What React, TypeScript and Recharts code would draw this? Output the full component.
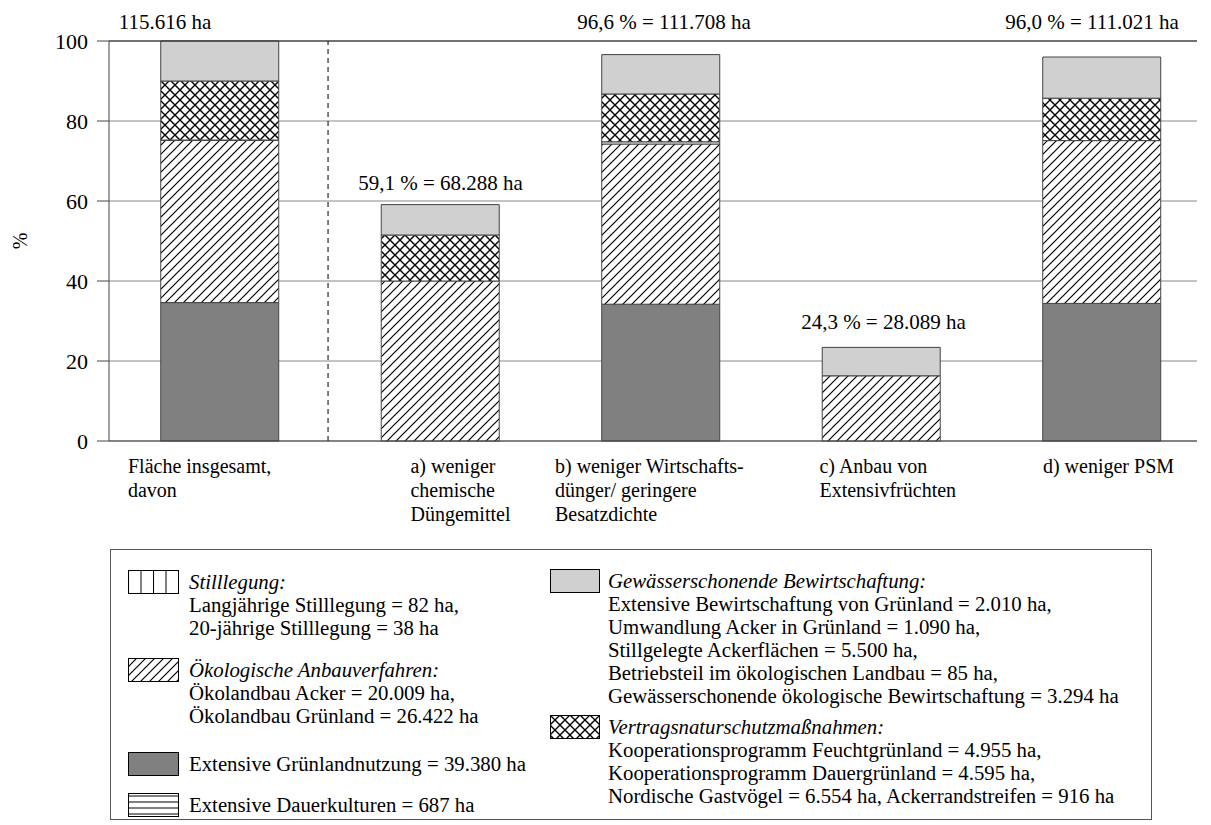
import React from 'react';
import { BarChart, Bar, XAxis, YAxis, CartesianGrid, ReferenceLine, ReferenceDot } from 'recharts';

// values in % of total area (115.616 ha)
const IDX = [0, 1, 2, 3, 4];
const TICK_LINES = [
    ['Fläche insgesamt,', 'davon'],
    ['a) weniger', 'chemische', 'Düngemittel'],
    ['b) weniger Wirtschafts-', 'dünger/ geringere', 'Besatzdichte'],
    ['c) Anbau von', 'Extensivfrüchten'],
    ['d) weniger PSM'],
];
const TOTAL_LABELS = ['115.616 ha', '59,1 % = 68.288 ha', '96,6 % = 111.708 ha', '24,3 % = 28.089 ha', '96,0 % = 111.021 ha'];
const GRUENLAND = [34.6, 0, 34.2, 0, 34.4];
const OEKO = [40.55, 40.0, 40.05, 16.3, 40.7];
const DAUERKULTUR = [0, 0, 0.55, 0, 0];
const STILLLEGUNG = [0.1, 0, 0, 0, 0];
const VERTRAG = [14.75, 11.5, 11.95, 0, 10.6];
const GEWAESSER = [10, 7.6, 9.85, 7.1, 10.3];
const Y_TICKS = [0, 20, 40, 60, 80, 100];

// layout only
const LABEL_LEVEL = [104.75, 64.7, 104.75, 29.8, 104.75];
const LABEL_DX = [-55, 0, 3, 2, -10];
const TICK_DX = [-92, -30, -106, -62, -59];

const FONT = '"Liberation Serif", "Times New Roman", serif';
const DARK = '#808080';
const LIGHT = '#d0d0d0';
const EDGE = '#444';

const data = IDX.map((i) => ({
    idx: i,
    gruen: GRUENLAND[i],
    oeko: OEKO[i],
    dauer: DAUERKULTUR[i],
    still: STILLLEGUNG[i],
    vertrag: VERTRAG[i],
    gewaesser: GEWAESSER[i],
}));

const Patterns = ({ p }: { p: string }) => (
    <defs>
        <pattern id={`${p}hatch`} patternUnits="userSpaceOnUse" width="9" height="9">
            <rect width="9" height="9" fill="#fff" />
            <path d="M-1,1 L1,-1 M0,9 L9,0 M8,10 L10,8" stroke="#000" strokeWidth="1.2" />
        </pattern>
        <pattern id={`${p}cross`} patternUnits="userSpaceOnUse" width="10" height="10">
            <rect width="10" height="10" fill="#fff" />
            <path d="M-1,-1 L11,11 M11,-1 L-1,11" stroke="#000" strokeWidth="1.4" />
        </pattern>
        <pattern id={`${p}vline`} patternUnits="userSpaceOnUse" width="12.5" height="10">
            <rect width="12.5" height="10" fill="#fff" />
            <path d="M0.5,0 L0.5,10" stroke="#000" strokeWidth="1" />
        </pattern>
        <pattern id={`${p}hline`} patternUnits="userSpaceOnUse" width="10" height="6">
            <rect width="10" height="6" fill="#fff" />
            <path d="M0,3 L10,3" stroke="#000" strokeWidth="1" />
        </pattern>
    </defs>
);

const CatTick = (props: any) => {
    const { x, y, payload } = props;
    const i = payload.value as number;
    const lines = TICK_LINES[i] || [];
    return (
        <g>
            {lines.map((line, k) => (
                <text key={k} x={x + TICK_DX[i]} y={y + 24 + k * 24} fontSize={20} fontFamily={FONT} fill="#000" textAnchor="start">
                    {line}
                </text>
            ))}
        </g>
    );
};

const Swatch = ({ fill, w }: { fill: string; w: number }) => (
    <svg width={w} height={24} style={{ display: 'block' }}>
        <Patterns p="lg-" />
        <rect x={0.5} y={0.5} width={w - 1} height={23} fill={fill} stroke="#000" strokeWidth={1} />
    </svg>
);

const LegendBlock = ({ left, top, fill, sw, gap, title, lines, italic }: any) => (
    <div style={{ position: 'absolute', left, top, lineHeight: '23px' }}>
        <div style={{ position: 'absolute', left: 0, top: 0 }}>
            <Swatch fill={fill} w={sw} />
        </div>
        <div style={{ position: 'absolute', left: sw + gap, top: 0, whiteSpace: 'nowrap' }}>
            <div style={{ fontStyle: italic ? 'italic' : 'normal' }}>{title}</div>
            {lines.map((l: string, k: number) => (
                <div key={k}>{l}</div>
            ))}
        </div>
    </div>
);

const ChartLegend = () => (
    <div
        style={{
            position: 'absolute',
            left: 110,
            top: 549,
            width: 1042,
            height: 271,
            border: '1px solid #555',
            boxSizing: 'border-box',
            fontFamily: FONT,
            fontSize: 20.8,
            color: '#000',
        }}
    >
        <LegendBlock left={17} top={20} sw={51} gap={10} fill="url(#lg-vline)" italic title="Stilllegung:"
            lines={['Langjährige Stilllegung = 82 ha,', '20-jährige Stilllegung = 38 ha']} />
        <LegendBlock left={17} top={108} sw={51} gap={10} fill="url(#lg-hatch)" italic title="Ökologische Anbauverfahren:"
            lines={['Ökolandbau Acker = 20.009 ha,', 'Ökolandbau Grünland = 26.422 ha']} />
        <LegendBlock left={17} top={202} sw={51} gap={10} fill={DARK} title="Extensive Grünlandnutzung = 39.380 ha" lines={[]} />
        <LegendBlock left={17} top={243} sw={51} gap={10} fill="url(#lg-hline)" title="Extensive Dauerkulturen = 687 ha" lines={[]} />
        <LegendBlock left={439} top={19} sw={50} gap={8} fill={LIGHT} italic title="Gewässerschonende Bewirtschaftung:"
            lines={[
                'Extensive Bewirtschaftung von Grünland = 2.010 ha,',
                'Umwandlung Acker in Grünland = 1.090 ha,',
                'Stillgelegte Ackerflächen = 5.500 ha,',
                'Betriebsteil im ökologischen Landbau = 85 ha,',
                'Gewässerschonende ökologische Bewirtschaftung = 3.294 ha',
            ]} />
        <LegendBlock left={439} top={165} sw={50} gap={8} fill="url(#lg-cross)" italic title="Vertragsnaturschutzmaßnahmen:"
            lines={[
                'Kooperationsprogramm Feuchtgrünland = 4.955 ha,',
                'Kooperationsprogramm Dauergrünland = 4.595 ha,',
                'Nordische Gastvögel = 6.554 ha, Ackerrandstreifen = 916 ha',
            ]} />
    </div>
);

const YLabel = () => (
    <text x={20} y={241} transform="rotate(-90, 20, 241)" textAnchor="middle" dominantBaseline="central" fontSize={20} fontFamily={FONT} fill="#000">
        %
    </text>
);

export default function App() {
    const tickFont = { fontSize: 22, fontFamily: FONT, fill: '#000' };
    return (
        <div style={{ position: 'absolute', left: 0, top: 0, width: 1211, height: 825, background: '#fff' }}>
            <BarChart width={1211} height={560} data={data} margin={{ top: 41, right: 14, left: 9, bottom: 0 }}>
                <Patterns p="" />
                <CartesianGrid vertical={false} stroke="#888" strokeWidth={1} />
                <XAxis
                    type="number"
                    dataKey="idx"
                    domain={[-0.5034, 4.431]}
                    ticks={IDX}
                    allowDataOverflow
                    tick={<CatTick />}
                    tickLine={false}
                    axisLine={{ stroke: EDGE }}
                    height={119}
                />
                <YAxis
                    domain={[0, 100]}
                    ticks={Y_TICKS}
                    width={100}
                    tick={tickFont}
                    tickSize={12}
                    tickMargin={9}
                    tickLine={{ stroke: EDGE }}
                    axisLine={{ stroke: EDGE }}
                />
                <ReferenceLine y={100} stroke="#222" />
                <ReferenceLine x={0.49} stroke="#000" strokeDasharray="5 4" />
                <Bar dataKey="gruen" stackId="s" fill={DARK} stroke={EDGE} barSize={118} isAnimationActive={false} />
                <Bar dataKey="oeko" stackId="s" fill="url(#hatch)" stroke={EDGE} barSize={118} isAnimationActive={false} />
                <Bar dataKey="dauer" stackId="s" fill="url(#hline)" stroke={EDGE} barSize={118} isAnimationActive={false} />
                <Bar dataKey="still" stackId="s" fill="url(#vline)" stroke={EDGE} barSize={118} isAnimationActive={false} />
                <Bar dataKey="vertrag" stackId="s" fill="url(#cross)" stroke={EDGE} barSize={118} isAnimationActive={false} />
                <Bar dataKey="gewaesser" stackId="s" fill={LIGHT} stroke={EDGE} barSize={118} isAnimationActive={false} />
                {IDX.map((i) => (
                    <ReferenceDot
                        key={i}
                        x={i}
                        y={LABEL_LEVEL[i]}
                        r={1}
                        fill="none"
                        stroke="none"
                        ifOverflow="visible"
                        label={{ value: TOTAL_LABELS[i], position: 'center', dx: LABEL_DX[i], fontSize: 21, fontFamily: FONT, fill: '#000' }}
                    />
                ))}
                <YLabel />
            </BarChart>
            <ChartLegend />
        </div>
    );
}
